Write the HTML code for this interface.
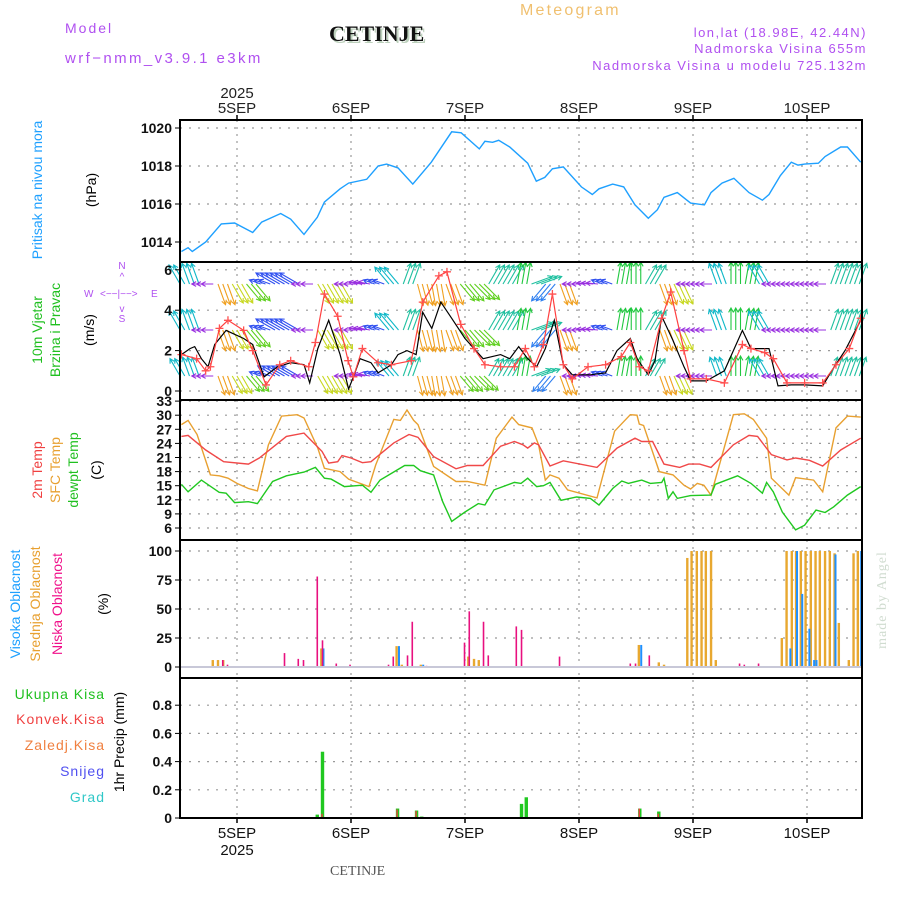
<!DOCTYPE html>
<html><head><meta charset="utf-8"><style>
body{margin:0;background:#fff}
svg{display:block;font-family:"Liberation Sans",sans-serif}
</style></head><body>
<svg id="c" width="900" height="900" viewBox="0 0 900 900">
<g>
<text x="65" y="33" font-size="14" fill="#b050f0" letter-spacing="2">Model</text>
<text x="65" y="63" font-size="15" fill="#b050f0" letter-spacing="2.4">wrf−nmm_v3.9.1 e3km</text>
<text x="331" y="43" font-size="22" font-weight="bold" font-family="Liberation Serif,serif" fill="#bcd0bc">CETINJE</text>
<text x="329" y="41" font-size="22" font-weight="bold" font-family="Liberation Serif,serif" fill="#111">CETINJE</text>
<text x="520" y="15" font-size="16" fill="#f0c070" letter-spacing="2.2">Meteogram</text>
<text x="867" y="37" font-size="13" fill="#b050f0" text-anchor="end" letter-spacing="1.5">lon,lat (18.98E, 42.44N)</text>
<text x="867" y="53" font-size="13" fill="#b050f0" text-anchor="end" letter-spacing="1.5">Nadmorska Visina 655m</text>
<text x="867" y="70" font-size="13" fill="#b050f0" text-anchor="end" letter-spacing="1.5">Nadmorska Visina u modelu 725.132m</text>
</g>
<g font-size="14">
<text transform="translate(42,190) rotate(-90)" text-anchor="middle" fill="#1ea0ff">Pritisak na nivou mora</text>
<text transform="translate(96,190) rotate(-90)" text-anchor="middle" fill="#000">(hPa)</text>
<text transform="translate(42,330) rotate(-90)" text-anchor="middle" fill="#20c020">10m Vjetar</text>
<text transform="translate(60,330) rotate(-90)" text-anchor="middle" fill="#20c020">Brzina i Pravac</text>
<text transform="translate(94,330) rotate(-90)" text-anchor="middle" fill="#000">(m/s)</text>
<g fill="#b050f0" font-size="10">
<text x="122" y="269" text-anchor="middle">N</text><text x="122" y="280" text-anchor="middle">^</text>
<text x="84" y="297">W</text><text x="100" y="297">&lt;−−|−−&gt;</text><text x="151" y="297">E</text>
<text x="122" y="312" text-anchor="middle">v</text><text x="122" y="322" text-anchor="middle">S</text>
</g>
<text transform="translate(42,470) rotate(-90)" text-anchor="middle" fill="#f04040">2m Temp</text>
<text transform="translate(60,470) rotate(-90)" text-anchor="middle" fill="#e8a030">SFC Temp</text>
<text transform="translate(78,470) rotate(-90)" text-anchor="middle" fill="#20c020">dewpt Temp</text>
<text transform="translate(101,470) rotate(-90)" text-anchor="middle" fill="#000">(C)</text>
<text transform="translate(20,604) rotate(-90)" text-anchor="middle" fill="#1ea0ff">Visoka Oblacnost</text>
<text transform="translate(40,604) rotate(-90)" text-anchor="middle" fill="#e8a030">Srednja Oblacnost</text>
<text transform="translate(62,604) rotate(-90)" text-anchor="middle" fill="#f0108a">Niska Oblacnost</text>
<text transform="translate(108,604) rotate(-90)" text-anchor="middle" fill="#000">(%)</text>
<text x="105" y="699" text-anchor="end" fill="#20c020" letter-spacing="1">Ukupna Kisa</text>
<text x="105" y="724" text-anchor="end" fill="#f04040" letter-spacing="1">Konvek.Kisa</text>
<text x="105" y="750" text-anchor="end" fill="#f08040" letter-spacing="1">Zaledj.Kisa</text>
<text x="105" y="776" text-anchor="end" fill="#5050f0" letter-spacing="1">Snijeg</text>
<text x="105" y="802" text-anchor="end" fill="#30c8c8" letter-spacing="1">Grad</text>
<text transform="translate(124,742) rotate(-90)" text-anchor="middle" fill="#000">1hr Precip (mm)</text>
<text transform="translate(886,600) rotate(-90)" text-anchor="middle" fill="#d0dcd0" font-family="Liberation Serif,serif" font-size="14" letter-spacing="1">made by Angel</text>
<text x="330" y="875" font-size="14" fill="#555" font-family="Liberation Serif,serif">CETINJE</text>
</g>
<g id="grid"></g><g id="marks"></g><g id="frames"></g>
</svg>
<script>
// ---- data (hours since 4 SEP 12Z) ----
const dayLabels=["5SEP","6SEP","7SEP","8SEP","9SEP","10SEP"];
const dayHours=[12,36,60,84,108,132];
const presTicks=[1014,1016,1018,1020];
const windTicks=[0,2,4,6];
const tempTicks=[6,9,12,15,18,21,24,27,30,33];
const cloudTicks=[0,25,50,75,100];
const precipTicks=[0,0.2,0.4,0.6,0.8];
const presH=[0.3,1.7,2.6,5.4,8.7,11.5,15.3,17.2,21.2,23.3,26.1,28.9,30.4,33.7,35.5,39.3,41.7,43.5,45.9,49,52.9,57.2,59.2,63,64.2,65.8,67.1,69.4,73.2,75,76.8,78.4,80.7,84.5,86.8,88.2,91.1,93.4,95.8,98.6,100.5,101.9,104.7,107.5,110.4,111.8,114.1,116.6,119.8,122.6,124,126.4,128.7,130.1,131.5,134.4,135.8,139.1,140.5,143.3];
const presV=[1013.5,1013.7,1013.5,1014,1014.95,1015,1014.5,1015.05,1015.5,1015.2,1014.4,1015.3,1016.1,1016.8,1017.1,1017.3,1018,1018.1,1017.9,1017.05,1018.2,1019.8,1019.75,1018.9,1019.3,1019.25,1019.35,1019,1018.15,1017.2,1017.4,1017.85,1017.95,1016.9,1016.5,1016.8,1017.05,1016.9,1015.95,1015.25,1015.7,1016.35,1016.6,1016.05,1015.95,1016.6,1017.1,1017.35,1016.6,1016.2,1016.5,1017.5,1018.2,1018.05,1018.1,1018.15,1018.5,1019,1019,1018.2];
const sfcH=[0.3,1.7,3.6,6.4,8.3,10.1,12,14.4,16.3,18.6,21.4,24.7,26.1,29,30.4,33.7,35.5,39.8,41.2,45,46.4,47.8,49.2,50.1,53.4,58.1,60.5,64.2,66.6,69.9,71.3,74.1,75.5,76.9,77.9,79.8,81.6,87.8,91.5,94.8,96.2,96.7,97.6,100.9,103.8,106.1,107.5,108.9,110.3,111.8,116.5,118.8,120.7,123.5,124.5,128.2,129.6,133.4,135.3,138.1,140.5,143.3];
const sfcV=[28,28.9,25.9,17.3,17.1,16.6,15.5,14.4,13.9,23.7,29.8,30.1,29.4,23,18.7,18,16.4,14.8,19.4,29.1,28.9,31.1,28.9,28,19.1,15.9,15.9,15.1,25.1,29.6,28,27.3,23.7,16.2,17.3,16.6,14.1,12.4,26.6,30.1,30,28.1,27.8,18,17.3,15.1,14.3,15.5,15.1,13,30.1,30.3,29.1,25.1,16.6,13,16.7,16.2,13.7,27.3,29.8,29.6];
const t2H=[0.3,1.7,5.4,9.2,14.4,16.7,22.4,26.1,29.9,31.3,33.2,34.1,36,38.4,40.2,45,48.2,50.1,53.4,58.1,60.5,63.8,67.5,70.4,72.2,73.2,74.6,75.5,77.9,80.7,87.8,92,95.8,97.2,99.5,101.9,105.2,107.1,109.4,111.8,116.5,119.8,121.6,124.5,127.8,129.6,132.5,135.3,139.1,143.3];
const t2V=[25.5,25.7,22.6,20.1,19.6,20.9,25.5,26.2,22.3,19.8,20.1,21.4,20.9,19.9,20.1,24.1,25.9,25.3,21.2,18.6,19.3,19.3,23.4,24.4,23.7,23,24.1,23.7,19.2,20.3,18.9,23,25.1,24.4,24.4,19.6,18.9,19.6,19.6,18.9,23.7,25.7,25.5,21.6,20.5,20.9,20.4,19.2,22.6,25.1];
const tdH=[0.3,1.7,4.5,8.25,9.7,11.5,14.4,16.3,19.5,22.4,26.1,28.5,30.4,31.8,34.6,38.4,40.2,42.1,47.3,49.2,50.6,53.4,55.3,57.2,60,62.8,64.2,66.1,70.4,71.8,73.2,75.1,76.5,77.9,80.2,83.5,86.4,88.2,91.1,93,94.4,97.2,99,101.4,101.9,102.8,103.8,104.7,107.5,111.8,112.7,117.4,120.2,122.6,123.5,124.9,126.8,129.6,131.5,133.9,135.8,137.6,140.5,143.3];
const tdV=[15.3,13.7,16.2,13.6,13.4,11.4,11.6,11.2,15.9,17.1,17.9,18.9,16.6,16.4,14.8,15.1,13.6,16.2,19.3,19.3,18.2,17.3,11.6,7.4,9.4,11.2,10.9,14.1,15.7,15.5,16.6,14.8,15,15.7,11.9,12.6,12.3,10.9,14.4,16,15.5,16.2,15.5,15.7,16.6,12.3,13.7,12.3,12.9,13,15.3,17.1,15.5,13.4,15.7,13.7,9.4,5.6,6.6,9.8,9.3,10.5,13,14.8];
const spdBH=[0.3,2.1,3.1,4.5,5.9,7.3,9.7,13.4,15.3,17.7,20.5,23.3,26.1,27.3,29,31.3,33.7,35.5,36.5,37.9,40.2,41.7,44.5,45.9,47.8,49.7,51.1,53,54.9,57.2,60,63.8,67.5,69.4,71.3,73.2,75.1,76.9,78.8,80.7,82.6,86.4,89.6,92,94.8,96.2,98.6,100,101.4,103.8,106.1,107.5,110.8,114.6,118.4,120.2,124,125.9,128.7,131.5,135.3,137.2,140,143.3];
const spdBV=[1.8,2.1,2.2,1.6,1.2,2.3,3.0,2.6,2.3,0.7,1.2,1.4,1.3,0.4,2.1,3.5,1.8,0.1,0.7,1.6,1.4,0.9,1.3,1.8,2.0,1.8,3.9,3.1,4.4,3.6,2.6,1.6,1.8,1.6,2.2,1.6,1.2,2.1,3.5,1.3,0.8,0.8,0.9,2.0,2.6,1.6,0.8,1.5,3.7,2.5,1.2,0.5,0.5,1.0,3.0,2.1,2.1,0.25,0.3,0.3,0.25,1.0,2.0,3.5];
const spdRH=[0.3,3.5,5.4,6.4,8.3,10.1,13.4,15.3,18.1,21,23.3,27.1,28.5,30.4,33.2,35.4,36.5,38.4,41.7,44.5,48.7,51.1,54.5,56.2,59.1,61.9,64.2,67.5,70.4,72.7,74.6,76.5,78.4,80.7,82.6,85.9,89.6,92.9,94.8,96.7,98.6,101.4,103.3,106.1,107.5,110.8,114.6,118.4,120.2,123.1,124.9,127.8,131.5,135.3,138.1,140.9,143.3];
const spdRV=[1.8,1.6,1.0,1.2,3.1,3.5,3.0,2.0,0.3,1.3,1.5,1.2,2.4,4.8,3.7,1.5,0.7,2.1,1.4,1.3,1.5,4.4,5.7,5.9,3.3,2.1,1.3,1.2,1.2,2.1,1.2,2.3,4.8,1.3,0.6,1.2,1.3,1.7,2.4,1.2,1.0,3.6,4.9,2.0,0.6,0.6,0.4,2.3,2.1,1.9,1.6,0.4,0.4,0.4,1.3,2.1,3.6];
const windDirH=[0,3,6,9,12,15,18,21,24,27,30,33,36,39,42,45,48,51,54,57,60,63,66,69,72,75,78,81,84,87,90,93,96,99,102,105,108,111,114,117,120,123,126,129,132,135,138,141];
const windDir=[330,340,270,160,150,140,290,300,300,270,150,150,270,280,290,320,20,165,170,160,140,135,30,30,10,70,220,160,270,275,290,10,0,30,160,155,270,270,340,0,10,330,270,270,270,270,20,20];
const cloudHighH=[30.2,46.1,51.2,97.1,128.5,129.9,131,132.5,133.5,134,138,143.4];
const cloudHighV=[16,18,2,19,16,100,63,33,6,6,97,100];
const cloudMidH=[6.9,8,9.1,29.75,45.6,46.7,50.7,60.7,61.9,62.9,96.6,100.8,101.9,106.8,107.7,108.8,109.8,110.7,111.8,112.8,126.7,127.7,128.8,129.7,130.7,131.7,132.8,133.8,134.7,135.8,136.8,137.8,138.7,140.8,141.8,142.7];
const cloudMidV=[6,6,6,16,18,2,2,9,7,6,19,4,2,94,100,100,100,100,100,6,25,100,100,100,100,100,100,100,100,100,100,98,38,6,98,100];
const cloudLowH=[9,10,22,24.9,26,28.9,30,32.9,35.8,43.9,44.9,47.9,48.9,51.9,59.9,60.9,63.9,64.9,70.8,71.9,79.9,94.8,95.9,98.8,117.8,118.8,121.8];
const cloudLowV=[6,2,12,7,6,78,23,3,2,2,9,10,39,1,21,48,39,10,35,32,9,3,3,10,3,2,3];
const rainH=[28.9,30,45.8,49.8,50.9,71.9,72.9,96.8,100.8];
const rainTotal=[0.024,0.47,0.067,0.053,0.01,0.10,0.147,0.067,0.046];
const rainConv=[0,0.03,0.06,0.05,0.005,0,0,0.067,0.03];

// ---- axes ----
const X0=180,X1=862,PX=4.75;
const xs=h=>X0+h*PX;
const yP=v=>128+(1020-v)*19;
const yW=v=>391-v*20.2;
const yT=v=>528-(v-6)*4.7;
const yC=v=>667-v*1.16;
const yR=v=>818-v*141;
const NS="http://www.w3.org/2000/svg";
function mk(tag,a,parent){const e=document.createElementNS(NS,tag);for(const k in a)e.setAttribute(k,a[k]);parent.appendChild(e);return e;}
const grid=document.getElementById('grid'),marks=document.getElementById('marks'),frames=document.getElementById('frames');
const panels=[[120,262],[262,400],[400,540],[540,678],[678,818]];
// vertical grid
dayHours.forEach(h=>{
 const l=mk('line',{x1:xs(h),x2:xs(h),y1:120,y2:818,stroke:'#999','stroke-dasharray':'2,5','stroke-width':1.2},grid);
 
 
});
function hgrid(ticks,fy,labelFmt,name,skipEdge){
 ticks.forEach(t=>{
  const y=fy(t);
  const l=mk('line',{x1:X0,x2:X1,y1:y,y2:y,stroke:'#999','stroke-dasharray':'2,7','stroke-width':1.2},grid);
  
  
  const tk=mk('line',{x1:X0-5,x2:X0,y1:y,y2:y,stroke:'#000'},frames);
  
  
  const tx=mk('text',{x:X0-8,y:y+5,'text-anchor':'end','font-size':14,'font-weight':'bold',fill:'#111'},frames);
  tx.textContent=labelFmt(t);
  
  
 });
}
hgrid(presTicks,yP,t=>t,'pressure');
hgrid(windTicks,yW,t=>t,'wind');
hgrid(tempTicks,yT,t=>t,'temp');
hgrid(cloudTicks,yC,t=>t,'cloud');
hgrid(precipTicks,yR,t=>t===0?'0':t.toFixed(1),'precip');
// frames
panels.forEach(p=>{
 const r=mk('rect',{x:X0,y:p[0],width:X1-X0,height:p[1]-p[0],fill:'none',stroke:'#000','stroke-width':2},frames);
 
 
});
// day labels
dayHours.forEach((h,i)=>{
 const t1=mk('text',{x:xs(h),y:113,'text-anchor':'middle','font-size':15,fill:'#222'},frames);
 t1.textContent=dayLabels[i];
 
 
 const t2=mk('text',{x:xs(h),y:838,'text-anchor':'middle','font-size':15,fill:'#111'},frames);
 t2.textContent=dayLabels[i];
 
 
 [120,818].forEach(yy=>{const k=mk('line',{x1:xs(h),x2:xs(h),y1:yy-(yy===120?5:0),y2:yy+(yy===818?5:0),stroke:'#000','stroke-width':1.5},frames);
  
  });
});
{const a=mk('text',{x:xs(12),y:98,'text-anchor':'middle','font-size':15,fill:'#222'},frames);a.textContent='2025';


const b=mk('text',{x:xs(12),y:855,'text-anchor':'middle','font-size':15,fill:'#111'},frames);b.textContent='2025';

}
// lines
function line(H,V,fy,color,name,w){
 const d=H.map((h,i)=>(i?'L':'M')+xs(h).toFixed(1)+','+fy(V[i]).toFixed(1)).join('');
 const p=mk('path',{d:d,fill:'none',stroke:color,'stroke-width':w||1.4},marks);
 
 
 return p;
}
line(presH,presV,yP,'#1ea0ff','pressure-line');
// wind arrows
function dirColor(d){
 if(d>=250&&d<285)return '#9a30e0';
 if(d>=285&&d<310)return '#3050f0';
 if(d>=310&&d<345)return '#10b8c8';
 if(d>=345||d<20)return '#20c840';
 if(d<100)return '#20c0a0';
 if(d<145)return '#60d020';
 if(d<158)return '#c8d820';
 if(d<200)return '#f0a020';
 return '#3080f0';
}
const rows=[[284,22],[330,22],[376,20]];
for(let h=0;h<=143;h++){
 let k=Math.min(windDir.length-1,Math.round(h/3));
 const d=windDir[k];
 rows.forEach(r=>{
  const rad=d*Math.PI/180,L=(d>=250&&d<300)?12:r[1];
  const x=xs(h),y=r[0],x2=x+Math.sin(rad)*L,y2=y-Math.cos(rad)*L;
  const c=dirColor(d);
  const hx1=x2-Math.sin(rad-0.5)*5,hy1=y2+Math.cos(rad-0.5)*5,hx2=x2-Math.sin(rad+0.5)*5,hy2=y2+Math.cos(rad+0.5)*5;
  const a=mk('path',{d:`M${x},${y}L${x2},${y2}M${hx1},${hy1}L${x2},${y2}L${hx2},${hy2}`,stroke:c,fill:'none','stroke-width':1.1},marks);
  
  
 });
}
line(spdBH,spdBV,yW,'#000','wind-speed-line',1.2);
line(spdRH,spdRV,yW,'#ff4040','wind-gust-line',1.2);
spdRH.forEach((h,i)=>{
 const x=xs(h),y=yW(spdRV[i]);
 const m=mk('path',{d:`M${x-4},${y}H${x+4}M${x},${y-4}V${y+4}`,stroke:'#ff5050','stroke-width':1.3},marks);
 
 
});
line(sfcH,sfcV,yT,'#e8a030','sfc-temp-line');
line(t2H,t2V,yT,'#f04848','temp-2m-line');
line(tdH,tdV,yT,'#20c820','dewpoint-line');
// cloud bars
function bars(H,V,fy,color,name,w,off){
 H.forEach((h,i)=>{
  const x=xs(h)+(off||0),y=fy(V[i]),y0=fy(0);
  const b=mk('rect',{x:x-w/2,y:y,width:w,height:Math.max(0,y0-y),fill:color},marks);
  
  
 });
}
bars(cloudMidH,cloudMidV,yC,'#e8a830','mid-cloud-bar',2.4,0);
bars(cloudHighH,cloudHighV,yC,'#1e90ff','high-cloud-bar',2,0);
bars(cloudLowH,cloudLowV,yC,'#e8107f','low-cloud-bar',1.6,0);
{const bl=mk('line',{x1:X0,x2:X1,y1:yC(0),y2:yC(0),stroke:'#c8c8d8','stroke-width':2},marks);

}
bars(rainH,rainTotal,yR,'#20c820','total-precip-bar',3.4,0);
bars(rainH,rainConv,yR,'#f04040','convective-precip-bar',1.4,-0.5);
</script>
</body></html>
